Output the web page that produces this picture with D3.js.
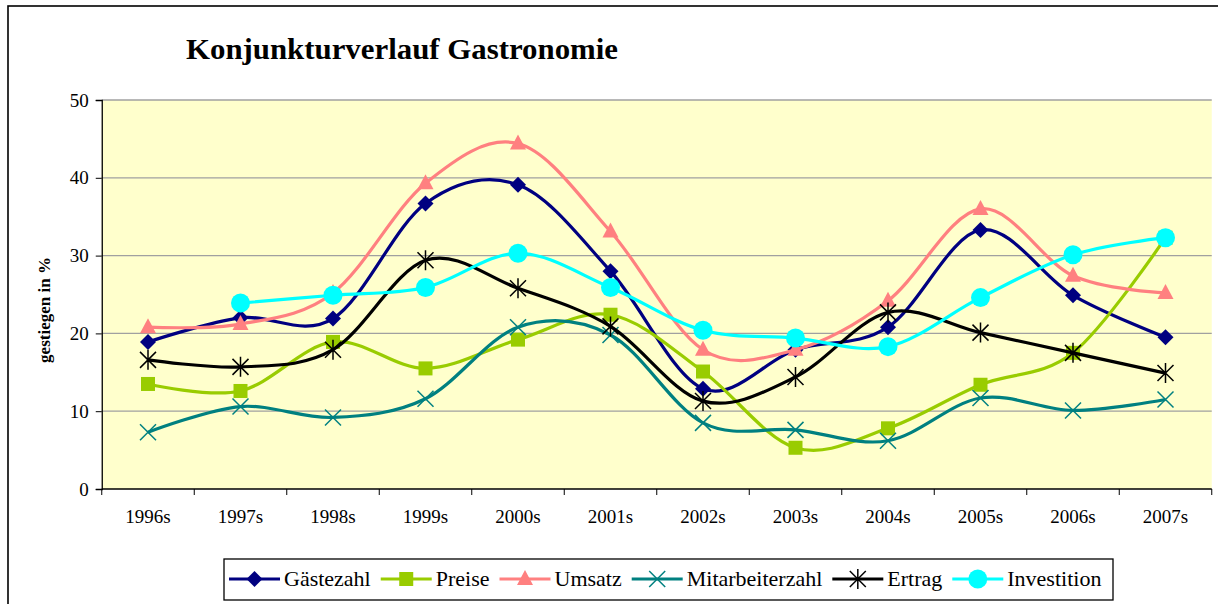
<!DOCTYPE html>
<html>
<head>
<meta charset="utf-8">
<title>Konjunkturverlauf Gastronomie</title>
<script src="https://cdn.jsdelivr.net/npm/d3@7"></script>
<style>
  html, body { margin: 0; padding: 0; background: #fff; }
  svg { display: block; }
  svg text { font-family: "Liberation Serif", "Times New Roman", serif; }
</style>
</head>
<body>
<svg id="chart" width="1218" height="604"></svg>
<script>
// categories and values
var years = ["1996s", "1997s", "1998s", "1999s", "2000s", "2001s", "2002s", "2003s", "2004s", "2005s", "2006s", "2007s"];
var yTicks = [0, 10, 20, 30, 40, 50];

var gaestezahl      = [18.9, 22.0, 21.9, 36.7, 39.1, 28.0, 12.9, 17.9, 20.8, 33.3, 24.9, 19.5];
var preise          = [13.5, 12.6, 18.9, 15.5, 19.2, 22.4, 15.1, 5.3, 7.8, 13.4, 17.5, 32.3];
var umsatz          = [20.8, 21.2, 25.2, 39.3, 44.4, 33.1, 17.9, 17.9, 24.2, 36.0, 27.4, 25.2];
var mitarbeiterzahl = [7.3, 10.6, 9.2, 11.6, 20.8, 19.8, 8.5, 7.6, 6.2, 11.7, 10.1, 11.5];
var ertrag          = [16.6, 15.7, 17.9, 29.4, 25.8, 20.9, 11.3, 14.4, 22.7, 20.1, 17.5, 14.9];
var investition     = [null, 23.9, 24.9, 25.9, 30.3, 25.9, 20.4, 19.4, 18.3, 24.6, 30.1, 32.3];

var seriesNames  = ["Gästezahl", "Preise", "Umsatz", "Mitarbeiterzahl", "Ertrag", "Investition"];
var seriesValues = [gaestezahl, preise, umsatz, mitarbeiterzahl, ertrag, investition];
var seriesColors = ["#000080", "#99cc00", "#ff8080", "#008080", "#000000", "#00ffff"];
var seriesMarks  = ["diamond", "square", "triangle", "cross", "star", "circle"];

var serif = "Liberation Serif";
var svg = d3.select("#chart");

// outer frame of the chart object (runs off the picture at right and bottom)
svg.append("rect")
  .attr("x", 8).attr("y", 6).attr("width", 1230).attr("height", 620)
  .attr("fill", "none").attr("stroke", "#000").attr("stroke-width", 1.6);

var plotL = 101.75, plotR = 1211.75, plotT = 100, plotB = 489;

var x = d3.scaleBand().domain(years).range([plotL, plotR]).padding(0);
var y = d3.scaleLinear().domain([0, 50]).range([plotB, plotT]);
var cx = function(i) { return x(years[i]) + x.bandwidth() / 2; };

// plot area
svg.append("rect")
  .attr("x", plotL).attr("y", plotT)
  .attr("width", plotR - plotL).attr("height", plotB - plotT)
  .attr("fill", "#ffffcc");

// grid lines
svg.append("g").selectAll("line")
  .data(yTicks.filter(function(d) { return d > 0; }))
  .join("line")
  .attr("x1", plotL).attr("x2", plotR)
  .attr("y1", function(d) { return y(d); }).attr("y2", function(d) { return y(d); })
  .attr("stroke", "#a0a0a0").attr("stroke-width", 1.3);

// y axis
var yAxis = svg.append("g")
  .attr("transform", "translate(" + plotL + ",0)")
  .call(d3.axisLeft(y).tickValues(yTicks).tickSize(6).tickPadding(7));
yAxis.select(".domain").attr("stroke", "#000").attr("stroke-width", 1.3);
yAxis.selectAll(".tick line").attr("stroke", "#000");
yAxis.selectAll("text")
  .attr("font-family", serif).attr("font-size", 19).attr("fill", "#000");

// x axis with ticks between categories
var xAxis = svg.append("g").attr("transform", "translate(0," + plotB + ")");
xAxis.append("line")
  .attr("x1", plotL).attr("x2", plotR)
  .attr("stroke", "#000").attr("stroke-width", 1.3);
xAxis.selectAll(".xt")
  .data(years.concat(["end"]))
  .join("line")
  .attr("class", "xt")
  .attr("x1", function(d, i) { return plotL + i * x.bandwidth(); })
  .attr("x2", function(d, i) { return plotL + i * x.bandwidth(); })
  .attr("y1", 0).attr("y2", 6)
  .attr("stroke", "#000");
xAxis.selectAll(".xl")
  .data(years)
  .join("text")
  .attr("class", "xl")
  .attr("x", function(d) { return x(d) + x.bandwidth() / 2; })
  .attr("y", 34)
  .attr("text-anchor", "middle")
  .attr("font-family", serif)
  .attr("font-size", 19)
  .text(function(d) { return d; });

// titles
svg.append("text")
  .attr("x", 186).attr("y", 59)
  .attr("font-family", serif)
  .attr("font-size", 29).attr("font-weight", "bold")
  .attr("textLength", 432).attr("lengthAdjust", "spacingAndGlyphs")
  .text("Konjunkturverlauf Gastronomie");

svg.append("text")
  .attr("transform", "translate(50,310) rotate(-90)")
  .attr("text-anchor", "middle")
  .attr("font-family", serif)
  .attr("font-size", 17).attr("font-weight", "bold")
  .text("gestiegen in %");

// markers
function drawMarker(g, kind, px, py, color) {
  if (kind === "diamond") {
    g.append("path").attr("d", "M" + px + "," + (py - 8) + "L" + (px + 8) + "," + py + "L" + px + "," + (py + 8) + "L" + (px - 8) + "," + py + "Z")
      .attr("fill", color);
  } else if (kind === "square") {
    g.append("rect").attr("x", px - 7).attr("y", py - 7).attr("width", 14).attr("height", 14).attr("fill", color);
  } else if (kind === "triangle") {
    g.append("path").attr("d", "M" + px + "," + (py - 9) + "L" + (px + 8) + "," + (py + 6) + "L" + (px - 8) + "," + (py + 6) + "Z")
      .attr("fill", color);
  } else if (kind === "cross") {
    g.append("path").attr("d", "M" + (px - 8) + "," + (py - 8) + "L" + (px + 8) + "," + (py + 8) + "M" + (px + 8) + "," + (py - 8) + "L" + (px - 8) + "," + (py + 8))
      .attr("stroke", color).attr("stroke-width", 1.5).attr("fill", "none");
  } else if (kind === "star") {
    g.append("path").attr("d", "M" + (px - 8) + "," + (py - 8) + "L" + (px + 8) + "," + (py + 8) + "M" + (px + 8) + "," + (py - 8) + "L" + (px - 8) + "," + (py + 8) + "M" + px + "," + (py - 10) + "L" + px + "," + (py + 10))
      .attr("stroke", color).attr("stroke-width", 1.5).attr("fill", "none");
  } else if (kind === "circle") {
    g.append("circle").attr("cx", px).attr("cy", py).attr("r", 9.5).attr("fill", color);
  }
}

var line = d3.line()
  .x(function(p) { return cx(p[0]); })
  .y(function(p) { return y(p[1]); })
  .curve(d3.curveCatmullRom.alpha(0));

seriesValues.forEach(function(vals, s) {
  var g = svg.append("g");
  var pts = vals.map(function(v, i) { return [i, v]; }).filter(function(p) { return p[1] != null; });
  g.append("path")
    .attr("d", line(pts))
    .attr("fill", "none")
    .attr("stroke", seriesColors[s])
    .attr("stroke-width", 3.2)
    .attr("stroke-linejoin", "round");
  pts.forEach(function(p) {
    drawMarker(g, seriesMarks[s], cx(p[0]), y(p[1]), seriesColors[s]);
  });
});

// legend
var legend = svg.append("g");
legend.append("rect")
  .attr("x", 224).attr("y", 559).attr("width", 889).attr("height", 41)
  .attr("fill", "#fff").attr("stroke", "#000").attr("stroke-width", 1.3);

var legX = 229;
seriesNames.forEach(function(name, s) {
  var g = legend.append("g");
  g.append("line")
    .attr("x1", legX).attr("x2", legX + 51)
    .attr("y1", 579).attr("y2", 579)
    .attr("stroke", seriesColors[s]).attr("stroke-width", 3.2);
  drawMarker(g, seriesMarks[s], legX + 25.5, 579, seriesColors[s]);
  var t = g.append("text")
    .attr("x", legX + 55).attr("y", 586)
    .attr("font-family", serif)
    .attr("font-size", 22)
    .text(name);
  legX += 55 + t.node().getComputedTextLength() + 10;
});
</script>
</body>
</html>
